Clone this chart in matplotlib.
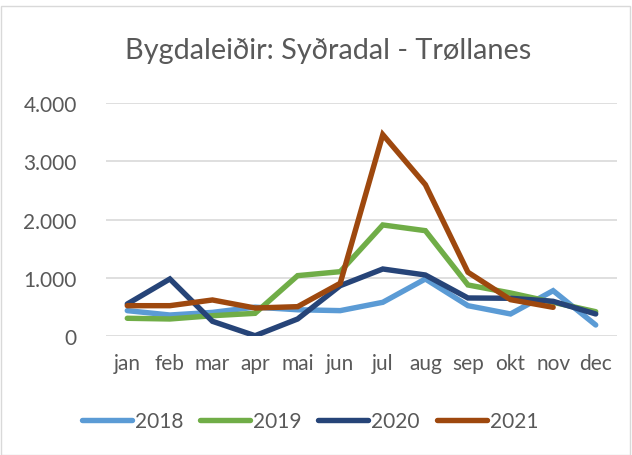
import matplotlib.pyplot as plt
from matplotlib.patches import Rectangle
from matplotlib.ticker import FuncFormatter

# Dados
meses = ['jan', 'feb', 'mar', 'apr', 'mai', 'jun', 'jul', 'aug', 'sep', 'okt', 'nov', 'dec']
v2018 = [440, 365, 410, 500, 455, 440, 583, 983, 525, 383, 782, 194]
v2019 = [309, 297, 353, 394, 1040, 1108, 1909, 1811, 880, 743, 583, 422]
v2020 = [554, 983, 257, 10, 297, 868, 1154, 1051, 657, 652, 600, 383]
v2021 = [525, 525, 623, 485, 508, 909, 3458, 2600, 1098, 628, 497]

series = [('2018', v2018, '#5B9BD5'), ('2019', v2019, '#70AD47'),
          ('2020', v2020, '#264478'), ('2021', v2021, '#9E480E')]

plt.rcParams['font.family'] = ['Lato', 'DejaVu Sans']
cinza = '#595959'

fig = plt.figure(figsize=(6.32, 4.56), dpi=100)
ax = fig.add_axes([106 / 632, 1 - 337.3 / 456, 511 / 632, (337.3 - 104) / 456])

for nome, vals, cor in series:
    ax.plot(range(len(vals)), vals, color=cor, lw=3.9, label=nome,
            solid_capstyle='round', solid_joinstyle='miter')

ax.set_xlim(-0.5, 11.5)
ax.set_ylim(0, 4000)
ax.set_yticks([0, 1000, 2000, 3000, 4000])
ax.yaxis.set_major_formatter(FuncFormatter(lambda v, p: f'{int(v):,}'.replace(',', '.')))
ax.set_xticks(range(12))
ax.set_xticklabels(meses)
ax.grid(axis='y', color='#d9d9d9', lw=1.2)
ax.set_axisbelow(True)
for s in ax.spines.values():
    s.set_visible(False)
ax.tick_params(axis='both', length=0, labelsize=15, labelcolor=cinza)
ax.tick_params(axis='y', pad=21)
ax.tick_params(axis='x', pad=12)

fig.text(328 / 632, 1 - 51 / 456, 'Bygdaleiðir: Syðradal - Trøllanes', ha='center', va='center',
         fontsize=20.8, color=cinza)

fig.legend(loc='center', bbox_to_anchor=(310 / 632, 1 - 422 / 456), ncol=4, frameon=False,
           fontsize=15, labelcolor=cinza, handlelength=2.4, handletextpad=0.15,
           columnspacing=0.8)

fig.patches.append(Rectangle((0.5 / 632, 0.5 / 456), 629 / 632, 449 / 456,
                             transform=fig.transFigure, fill=False, edgecolor='#d9d9d9', lw=1))

fig.savefig('out.png', dpi=100)
